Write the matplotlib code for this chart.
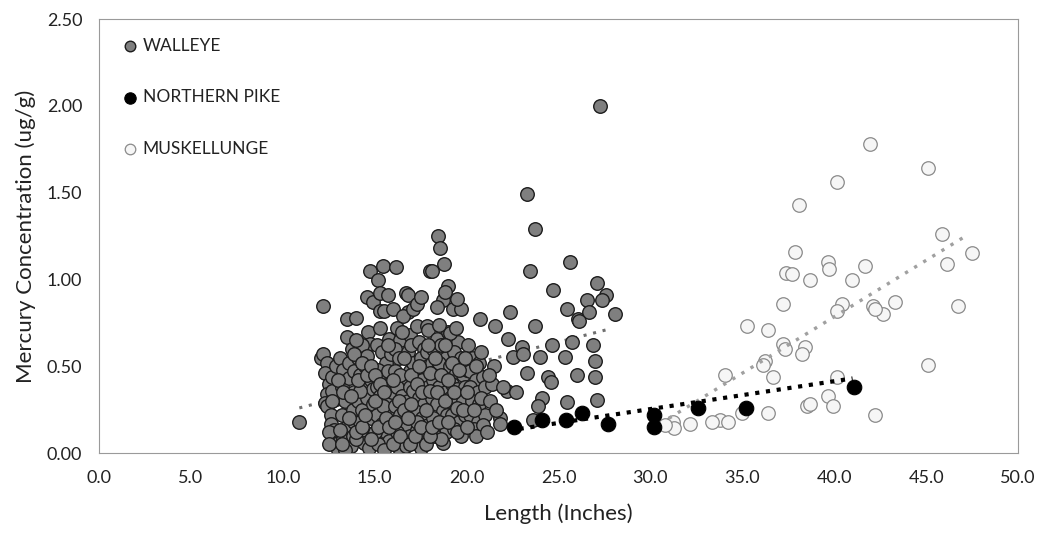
import matplotlib
matplotlib.use("Agg")
import matplotlib.pyplot as plt
from matplotlib.ticker import FormatStrFormatter, MultipleLocator

plt.rcParams['font.family'] = ['Lato', 'DejaVu Sans']

# ---------------- data ----------------
walleye = [
    (12.1,0.55),(12.2,0.57),(12.4,0.52),(12.3,0.46),(12.5,0.40),(12.4,0.34),(12.3,0.29),(12.4,0.27),
    (12.6,0.22),(12.6,0.17),(12.75,0.09),(12.9,0.05),(12.8,0.13),(12.9,0.31),(12.7,0.44),(12.9,0.50),
    (12.2,0.85),(12.7,0.36),(12.5,0.12),(13.0,0.02),
    (13.2,0.38),(13.5,0.77),(13.5,0.67),(13.75,0.60),(13.1,0.55),(13.3,0.48),(13.6,0.43),(13.4,0.30),
    (13.2,0.22),(13.5,0.15),(13.3,0.08),(13.7,0.04),(13.8,0.25),(13.9,0.35),(13.6,0.52),(13.9,0.47),
    (13.1,0.13),(13.8,0.10),(13.4,0.02),(13.9,0.18),
    (14.0,0.78),(14.1,0.55),(14.56,0.90),(14.65,0.70),(14.74,0.63),(14.74,1.05),(14.9,0.87),(14.3,0.62),
    (14.2,0.45),(14.5,0.50),(14.4,0.40),(14.8,0.42),(14.1,0.30),(14.3,0.25),(14.6,0.32),(14.9,0.28),
    (14.2,0.18),(14.5,0.12),(14.8,0.20),(14.4,0.06),(14.7,0.03),(14.9,0.10),(14.0,0.08),(14.6,0.56),
    (14.9,0.37),(14.2,0.36),
    (15.2,1.00),(15.47,1.08),(15.3,0.92),(15.74,0.91),(15.3,0.82),(15.5,0.82),(15.29,0.72),(15.8,0.66),
    (16.0,0.83),(15.1,0.62),(15.4,0.58),(15.6,0.52),(15.9,0.57),(15.2,0.48),(15.5,0.44),(15.8,0.40),
    (15.1,0.38),(15.3,0.33),(15.7,0.30),(15.9,0.25),(15.1,0.22),(15.4,0.17),(15.6,0.12),(15.8,0.07),
    (15.2,0.05),(15.5,0.02),(15.9,0.15),(15.0,0.12),(15.7,0.47),(15.45,0.27),(15.95,0.35),
    (16.16,1.07),(16.7,0.92),(16.83,0.91),(16.8,0.81),(16.56,0.79),(16.2,0.72),(16.4,0.65),(16.9,0.68),
    (16.1,0.60),(16.3,0.55),(16.8,0.58),(16.1,0.47),(16.6,0.42),(16.9,0.47),(16.2,0.38),(16.5,0.33),
    (16.8,0.30),(16.1,0.27),(16.4,0.22),(16.7,0.17),(16.2,0.12),(16.5,0.08),(16.9,0.10),(16.3,0.03),
    (16.7,0.04),(16.9,0.38),(16.4,0.45),
    (17.1,0.83),(17.28,0.86),(17.28,0.73),(17.82,0.73),(17.5,0.90),(17.9,0.71),(17.0,0.62),(17.4,0.64),
    (17.7,0.60),(17.1,0.52),(17.5,0.55),(17.9,0.50),(17.2,0.45),(17.6,0.42),(17.9,0.38),(17.1,0.36),
    (17.4,0.32),(17.7,0.28),(17.2,0.24),(17.6,0.20),(17.9,0.16),(17.3,0.13),(17.7,0.09),(17.1,0.06),
    (17.5,0.03),(17.8,0.05),(18.0,1.05),(17.85,0.58),(17.3,0.18),
    (18.46,1.25),(18.55,1.18),(18.77,1.09),(18.1,1.05),(19.0,0.96),(18.73,0.88),(18.37,0.84),(18.37,0.66),
    (19.0,0.70),(18.8,0.93),(18.2,0.60),(18.6,0.62),(18.9,0.55),(18.1,0.52),(18.4,0.48),(18.8,0.45),
    (18.2,0.42),(18.5,0.38),(18.9,0.35),(18.1,0.32),(18.4,0.28),(18.7,0.24),(18.2,0.20),(18.6,0.15),
    (18.9,0.12),(18.3,0.10),(18.7,0.06),(18.5,0.52),(18.0,0.46),(18.95,0.22),(18.6,0.08),
    (19.28,0.83),(19.7,0.83),(19.46,0.885),(19.55,0.64),(19.1,0.69),(19.3,0.58),(19.7,0.55),(19.1,0.50),
    (19.4,0.46),(19.8,0.45),(19.2,0.40),(19.5,0.37),(19.9,0.38),(19.1,0.32),(19.4,0.28),(19.8,0.30),
    (19.2,0.22),(19.6,0.18),(19.9,0.22),(19.3,0.14),(19.7,0.10),(19.5,0.26),(20.0,0.48),
    (20.73,0.775),(20.3,0.55),(20.7,0.52),(20.2,0.47),(20.5,0.42),(20.9,0.44),(20.2,0.38),(20.6,0.35),
    (21.0,0.38),(20.3,0.30),(20.7,0.28),(20.2,0.22),(20.6,0.18),(21.0,0.22),(20.4,0.14),(20.9,0.16),
    (20.5,0.10),(20.1,0.62),
    (12.5,0.05),(12.7,0.30),(13.0,0.42),(13.2,0.05),(13.3,0.35),(13.6,0.20),(13.7,0.33),(13.9,0.57),
    (14.0,0.12),(14.1,0.42),(14.3,0.15),(14.3,0.52),(14.5,0.22),(14.6,0.45),(14.8,0.08),(14.8,0.50),
    (15.0,0.30),(15.0,0.45),(15.2,0.15),(15.3,0.40),(15.5,0.35),(15.6,0.20),(15.7,0.62),(15.8,0.15),
    (16.0,0.05),(16.0,0.42),(16.1,0.18),(16.3,0.30),(16.4,0.10),(16.6,0.25),(16.6,0.55),(16.8,0.20),
    (16.9,0.05),(17.0,0.28),(17.0,0.45),(17.2,0.10),(17.3,0.40),(17.4,0.50),(17.5,0.15),(17.6,0.35),
    (17.8,0.25),(17.9,0.62),(18.0,0.10),(18.0,0.36),(18.1,0.15),(18.3,0.55),(18.4,0.35),(18.5,0.18),
    (18.6,0.45),(18.8,0.30),(18.8,0.62),(19.0,0.18),(19.0,0.42),(19.2,0.52),(19.3,0.35),(19.5,0.12),
    (19.6,0.48),(19.8,0.25),(19.9,0.55),(20.0,0.15),(20.0,0.35),(20.4,0.25),(20.5,0.50),(20.8,0.32),
    (21.1,0.12),(20.8,0.58),(19.4,0.72),(18.5,0.74),(16.5,0.70),(14.0,0.65),
    (21.55,0.73),(22.36,0.81),(22.27,0.66),(21.4,0.40),(22.2,0.36),(22.7,0.35),(21.8,0.20),(21.8,0.17),
    (21.3,0.30),(21.5,0.50),(21.2,0.45),(21.6,0.25),(22.0,0.38),(23.0,0.61),(22.54,0.555),(23.09,0.57),
    (23.72,0.73),(23.27,0.46),(24.0,0.555),(24.63,0.62),(25.72,0.64),(25.35,0.555),(26.08,0.77),(26.9,0.62),
    (26.99,0.53),(26.99,0.44),(25.99,0.45),(24.45,0.44),(24.6,0.41),(27.08,0.305),(25.45,0.295),(24.09,0.32),
    (23.9,0.27),(23.6,0.19),(23.27,1.49),(23.7,1.29),(23.45,1.05),(25.6,1.10),(24.7,0.94),(27.08,0.98),
    (27.26,2.00),(27.6,0.91),(27.35,0.88),(26.57,0.88),(25.48,0.83),(26.68,0.81),(28.07,0.80),(26.1,0.76),
    (10.9,0.18),
]
pike_x = [22.6, 24.1, 25.4, 26.3, 27.7, 30.2, 30.2, 32.6, 35.2, 41.1]
pike_y = [0.15, 0.19, 0.19, 0.23, 0.17, 0.22, 0.15, 0.26, 0.26, 0.38]
muskie = [
    (41.95,1.78),(45.12,1.64),(40.13,1.56),(38.1,1.43),(45.85,1.26),(47.48,1.15),(46.12,1.09),
    (37.87,1.16),(39.68,1.10),(39.7,1.06),(41.68,1.08),(37.4,1.035),(37.7,1.03),(38.68,1.00),
    (40.95,1.00),(37.23,0.86),(40.4,0.86),(40.13,0.82),(42.13,0.85),(42.67,0.80),(42.2,0.83),
    (43.3,0.87),(46.75,0.85),(35.24,0.73),(36.41,0.71),(37.23,0.63),(37.3,0.60),(38.41,0.61),
    (38.23,0.57),(36.24,0.53),(36.1,0.51),(34.06,0.45),(36.69,0.44),(40.13,0.44),(45.12,0.51),
    (38.5,0.27),(38.7,0.28),(39.68,0.33),(39.95,0.27),(42.22,0.22),(36.41,0.23),(34.97,0.23),
    (33.79,0.19),(34.2,0.18),(33.33,0.18),(32.15,0.17),(31.25,0.18),(31.3,0.145),(30.8,0.16),
]
walleye_trend_x = [10.9, 27.6]
walleye_trend_y = [0.26, 0.71]
pike_trend_x = [22.3, 41.0]
pike_trend_y = [0.13, 0.43]
muskie_trend_x = [31.0, 47.3]
muskie_trend_y = [0.20, 1.26]

x_ticks = [0, 5, 10, 15, 20, 25, 30, 35, 40, 45, 50]
series_names = ["WALLEYE", "NORTHERN PIKE", "MUSKELLUNGE"]

# ---------------- figure ----------------
fig = plt.figure(figsize=(10.44, 5.33), dpi=100)
ax = fig.add_axes([0.0948, 0.150, 0.8803, 0.814])

wx = [p[0] for p in walleye]
wy = [p[1] for p in walleye]
mx = [p[0] for p in muskie]
my = [p[1] for p in muskie]

ms = 95
ax.plot(walleye_trend_x, walleye_trend_y, linestyle=(0, (1, 2.2)), color='#6f6f6f', lw=2.2, zorder=1)
h1 = ax.scatter(wx, wy, s=ms, facecolor='#7f7f7f', edgecolor='#1c1c1c', linewidth=1.0, zorder=2)
h3 = ax.scatter(mx, my, s=ms, facecolor='#f6f6f6', edgecolor='#8a8a8a', linewidth=0.9, zorder=3)
ax.plot(muskie_trend_x, muskie_trend_y, linestyle=(0, (1, 2.2)), color='#a0a0a0', lw=2.4, zorder=4)
h2 = ax.scatter(pike_x, pike_y, s=110, facecolor='black', edgecolor='black', linewidth=0.8, zorder=5)
ax.plot(pike_trend_x, pike_trend_y, linestyle=(0, (1, 1.6)), color='black', lw=3.0, zorder=6)

ax.set_xlim(0, 50)
ax.set_ylim(0, 2.5)
ax.set_xticks(x_ticks)
ax.yaxis.set_major_locator(MultipleLocator(0.5))
ax.xaxis.set_major_formatter(FormatStrFormatter('%.1f'))
ax.yaxis.set_major_formatter(FormatStrFormatter('%.2f'))
ax.tick_params(length=0, labelsize=13, colors='#222222')
ax.tick_params(axis='y', pad=12)
ax.tick_params(axis='x', pad=12)
for sp in ax.spines.values():
    sp.set_color('#9a9a9a')
    sp.set_linewidth(0.8)

ax.set_xlabel('Length (Inches)', fontsize=16, color='#222222', labelpad=13)
ax.set_ylabel('Mercury Concentration (ug/g)', fontsize=16, color='#222222', labelpad=8)

leg = ax.legend([h1, h2, h3], series_names, loc='upper left', bbox_to_anchor=(0.007, 0.993),
                frameon=False, fontsize=12.5, labelspacing=2.05, handletextpad=0.25,
                handlelength=1.0, borderpad=0.4, markerscale=0.78, scatterpoints=1)
for t in leg.get_texts():
    t.set_color('#222222')

fig.savefig('out.png', dpi=100)
